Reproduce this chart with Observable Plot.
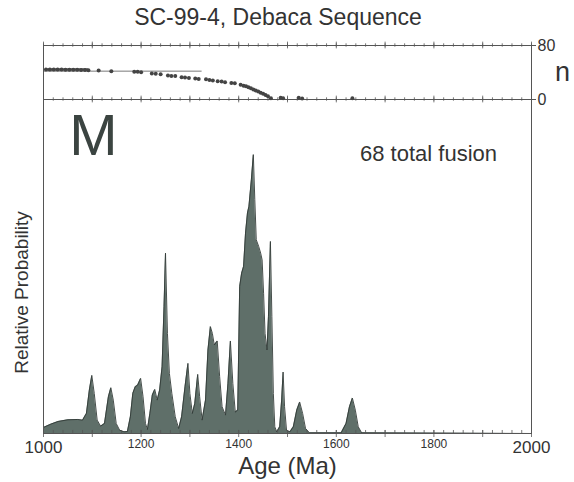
<!DOCTYPE html>
<html><head><meta charset="utf-8">
<script src="https://cdn.jsdelivr.net/npm/d3@7"></script>
<script src="https://cdn.jsdelivr.net/npm/@observablehq/plot@0.6"></script>
<style>
body{margin:0;background:#fff;}
#wrap{position:relative;width:574px;height:482px;font-family:"Liberation Sans",Arial,sans-serif;color:#333;overflow:hidden;background:#fff}
#title{position:absolute;left:0;top:3px;width:556px;text-align:center;font-size:23px;line-height:28px;color:#333}
#main{position:absolute;left:0;top:0}
#top{position:absolute;left:0;top:0}
</style></head><body>
<div id="wrap"><div id="main"></div><div id="top"></div><div id="title">SC-99-4, Debaca Sequence</div></div>
<script>
// ---- Data ----
// Relative probability curve (age in Ma, relative height 0..1)
const probAges = [1000,1015,1030,1050,1070,1080,1088,1094,1099,1104,1110,1117,1125,1133,1138,1143,1149,1156,1165,1172,1178,1183,1188,1193,1199,1204,1209,1213,1218,1223,1228,1233,1238,1243,1247,1250,1254,1258,1263,1270,1277,1283,1290,1296,1300,1305,1310,1316,1320,1325,1332,1337,1342,1346,1350,1356,1361,1366,1373,1378,1383,1388,1393,1398,1402,1406,1410,1414,1418,1421,1426,1430,1433,1436,1441,1445,1448,1451,1454,1458,1461,1465,1468,1471,1474,1478,1484,1488,1491,1494,1498,1505,1512,1519,1525,1531,1537,1545,1610,1620,1627,1633,1639,1645,1652,2000];
const probVals = [0.018,0.028,0.036,0.041,0.042,0.04,0.06,0.13,0.174,0.12,0.04,0.022,0.03,0.11,0.137,0.1,0.03,0.01,0.005,0.006,0.05,0.12,0.14,0.145,0.165,0.11,0.03,0.012,0.06,0.115,0.132,0.1,0.13,0.2,0.38,0.54,0.3,0.18,0.12,0.05,0.015,0.05,0.14,0.21,0.12,0.06,0.09,0.177,0.11,0.04,0.1,0.25,0.32,0.3,0.265,0.277,0.17,0.08,0.055,0.15,0.277,0.15,0.064,0.07,0.44,0.48,0.5,0.6,0.66,0.68,0.76,0.835,0.7,0.58,0.56,0.54,0.52,0.42,0.3,0.25,0.35,0.575,0.35,0.12,0.02,0.005,0.02,0.1,0.184,0.08,0.01,0.005,0.02,0.07,0.094,0.06,0.015,0.002,0.002,0.03,0.08,0.106,0.07,0.02,0.002,0];

// Upper panel: n versus age
const nAges = [1005,1013,1021,1029,1037,1045,1053,1061,1069,1077,1085,1092,1113,1139,1186,1193,1200,1222,1230,1240,1255,1262,1270,1283,1290,1298,1311,1318,1333,1340,1347,1357,1365,1372,1385,1392,1404,1410,1415,1420,1425,1430,1435,1440,1445,1450,1455,1460,1466,1486,1491,1523,1530,1633];
const nVals = [44.5,44.5,44.5,44.4,44.3,44.2,44.1,44,44,43.8,43.6,43.5,43,42,41,41,40.5,38.5,38,37.5,35.5,35,35,33,32.5,32,31,30.5,30,29,28,27,26.5,25.5,24.5,24,22,20.5,19.5,18,16.5,15,13.5,12,10,8.5,6.5,5,2,2.5,2,2.5,1.5,2];
const nLineAges = [1002, 1325];
const nLineValue = [42];

// Axis ticks and labels
const nTicks = [0, 80];
const minorTicks = d3.range(1000, 2001, 20);
const majorTicks = [1000,1100,1200,1300,1400,1500,1600,1700,1800,1900,2000];
const bigLabels = [1000, 2000];
const smallLabels = [1200, 1400, 1600, 1800];

const curve = probAges.map((a, i) => ({age: a, p: probVals[i]}));
const nPoints = nAges.map((a, i) => ({age: a, n: nVals[i]}));

const font = '"Liberation Sans", Arial, sans-serif';
const ink = "#333";

const topPlot = Plot.plot({
  width: 574, height: 100,
  marginTop: 45, marginBottom: 1, marginLeft: 43, marginRight: 43,
  x: {domain: [1000, 2000], axis: null},
  y: {domain: [0, 80], axis: null},
  style: {fontFamily: font, color: ink, background: "transparent", overflow: "visible"},
  marks: [
    Plot.frame({stroke: "#555", strokeWidth: 1}),
    Plot.ruleX(minorTicks, {x: d => d, y1: 77.5, y2: 82.5, stroke: "#555", strokeWidth: 0.8}),
    Plot.ruleX(majorTicks, {x: d => d, y1: 75, y2: 85, stroke: "#555", strokeWidth: 0.8}),
    Plot.ruleX(minorTicks, {x: d => d, y1: -2.5, y2: 2.5, stroke: "#555", strokeWidth: 0.8}),
    Plot.ruleX(majorTicks, {x: d => d, y1: -5, y2: 5, stroke: "#555", strokeWidth: 0.8}),
    Plot.ruleY(nLineValue, {x1: nLineAges[0], x2: nLineAges[1], stroke: "#555", strokeWidth: 0.8}),
    Plot.ruleY([nVals[0]], {x1: nAges[0], x2: nAges[11], stroke: "#555", strokeWidth: 2.5}),
    Plot.dot(nPoints, {x: "age", y: "n", r: 2, fill: "#444", stroke: "none"}),
    Plot.axisY({anchor: "right", ticks: nTicks, tickSize: 4, tickPadding: 2, fontSize: 16, label: null, stroke: "#555"}),
    Plot.text(["n"], {x: 2000, y: 40, dx: 31, fontSize: 27, fill: ink})
  ]
});
document.getElementById("top").appendChild(topPlot);

const fmt = d => String(d);
const mainPlot = Plot.plot({
  width: 574, height: 482,
  marginTop: 99, marginBottom: 49, marginLeft: 43, marginRight: 43,
  x: {domain: [1000, 2000], axis: null},
  y: {domain: [0, 1], axis: null},
  style: {fontFamily: font, color: ink, background: "transparent", overflow: "visible"},
  marks: [
    Plot.areaY(curve, {x: "age", y: "p", fill: "#5f6f69", curve: "linear"}),
    Plot.lineY(curve, {x: "age", y: "p", stroke: "#323b38", strokeWidth: 0.9, curve: "linear"}),
    Plot.frame({stroke: "#555", strokeWidth: 1}),
    Plot.ruleX(minorTicks, {x: d => d, y1: 0, y2: 0.009, stroke: "#555", strokeWidth: 0.8}),
    Plot.ruleX(majorTicks, {x: d => d, y1: -0.012, y2: 0.009, stroke: "#555", strokeWidth: 0.8}),
    Plot.text(bigLabels, {x: d => d, text: fmt, frameAnchor: "bottom", lineAnchor: "middle", textAnchor: "middle", dy: 14, fontSize: 17, fill: ink}),
    Plot.text(smallLabels, {x: d => d, text: fmt, frameAnchor: "bottom", lineAnchor: "middle", textAnchor: "middle", dy: 11, fontSize: 12, fill: ink}),
    Plot.text(["Age (Ma)"], {frameAnchor: "bottom", lineAnchor: "middle", textAnchor: "middle", dy: 33, fontSize: 24, fill: ink}),
    Plot.text(["Relative Probability"], {frameAnchor: "left", lineAnchor: "middle", textAnchor: "middle", dx: -22, dy: 26, rotate: -90, fontSize: 19, fill: ink}),
    Plot.text(["M"], {frameAnchor: "top-left", lineAnchor: "middle", textAnchor: "middle", dx: 50, dy: 37, fontSize: 58, fill: "#3b4441"}),
    Plot.text(["68 total fusion"], {frameAnchor: "top-left", lineAnchor: "middle", textAnchor: "middle", dx: 385, dy: 54, fontSize: 22, fill: ink})
  ]
});
document.getElementById("main").appendChild(mainPlot);
</script>
</body></html>
